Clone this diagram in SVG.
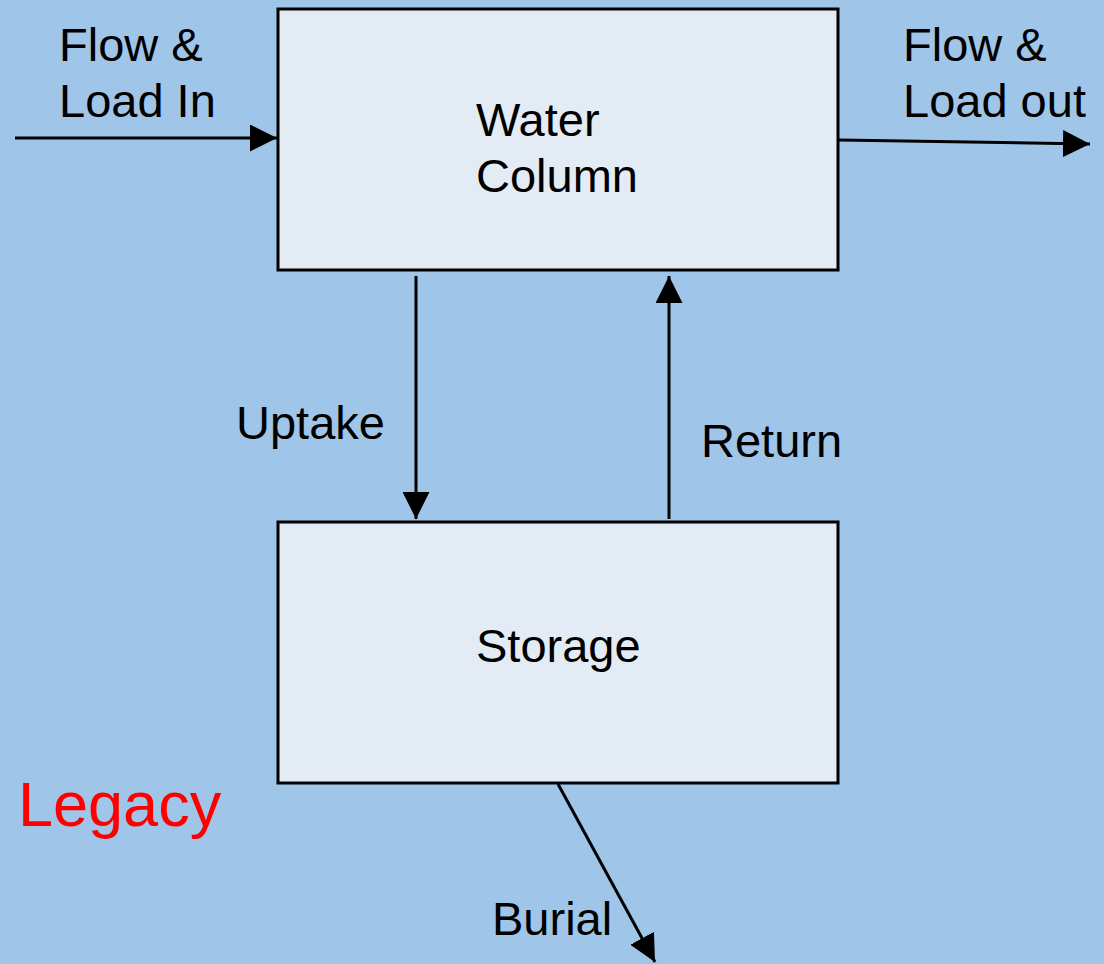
<svg xmlns="http://www.w3.org/2000/svg" width="1104" height="964" viewBox="0 0 1104 964">
  <style>
    .box { fill: #e3ebf4; stroke: #000; stroke-width: 3; }
    .lbl { font-family: "Liberation Sans", Arial, sans-serif; font-size: 47px; fill: #000; }
    .edge { stroke: #000; stroke-width: 3; fill: none; marker-end: url(#head); }
    .legacy { font-family: "Liberation Sans", Arial, sans-serif; font-size: 63px; fill: #ff0000; }
  </style>
  <defs>
    <marker id="head" viewBox="0 0 10 10" refX="10" refY="5" markerWidth="9" markerHeight="9" markerUnits="strokeWidth" orient="auto">
      <path d="M0,0 L10,5 L0,10 Z" fill="#000"/>
    </marker>
  </defs>
  <rect width="1104" height="964" fill="#9fc5e8"/>

  <g id="water-column">
    <rect class="box" x="278" y="9" width="560" height="261"/>
    <text class="lbl" x="476" y="136">Water</text>
    <text class="lbl" x="476" y="192">Column</text>
  </g>

  <g id="storage">
    <rect class="box" x="278" y="522" width="560" height="261"/>
    <text class="lbl" x="476" y="662">Storage</text>
  </g>

  <g id="connectors">
    <line class="edge" x1="15" y1="138" x2="277" y2="138"/>
    <line class="edge" x1="839" y1="140" x2="1090" y2="144"/>
    <line class="edge" x1="416" y1="276" x2="416" y2="519"/>
    <line class="edge" x1="669" y1="519" x2="669" y2="276"/>
    <line class="edge" x1="558" y1="784" x2="655" y2="962"/>
  </g>

  <g id="labels">
    <text class="lbl" x="59" y="61">Flow &amp;</text>
    <text class="lbl" x="59" y="117">Load In</text>
    <text class="lbl" x="903" y="61">Flow &amp;</text>
    <text class="lbl" x="903" y="117">Load out</text>
    <text class="lbl" x="236" y="439">Uptake</text>
    <text class="lbl" x="701" y="457">Return</text>
    <text class="lbl" x="492" y="935">Burial</text>
    <text class="legacy" x="18" y="826">Legacy</text>
  </g>
</svg>
